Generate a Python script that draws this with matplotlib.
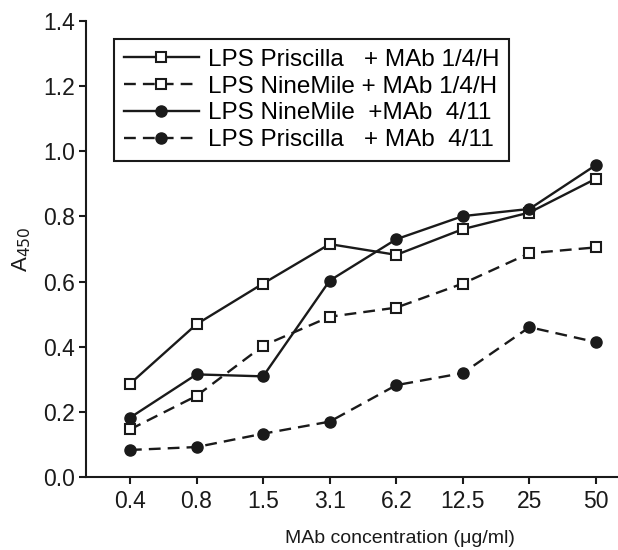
import numpy as np
import matplotlib
matplotlib.use('Agg')
from matplotlib import pyplot as plt

plt.rcParams['font.family'] = ['Liberation Sans', 'DejaVu Sans']

# data
concentrations = ['0.4', '0.8', '1.5', '3.1', '6.2', '12.5', '25', '50']
pris_14h = [0.286, 0.469, 0.594, 0.715, 0.682, 0.761, 0.812, 0.916]
nine_14h = [0.146, 0.249, 0.403, 0.492, 0.520, 0.594, 0.687, 0.705]
nine_411 = [0.182, 0.315, 0.309, 0.603, 0.730, 0.801, 0.823, 0.958]
pris_411 = [0.083, 0.092, 0.133, 0.170, 0.282, 0.319, 0.460, 0.414]
labels = ['LPS Priscilla   + MAb 1/4/H',
          'LPS NineMile + MAb 1/4/H',
          'LPS NineMile  +MAb  4/11',
          'LPS Priscilla   + MAb  4/11']
yticks = [0.0, 0.2, 0.4, 0.6, 0.8, 1.0, 1.2, 1.4]

fig = plt.figure(figsize=(6.18, 5.5), dpi=100)
ax = fig.add_axes([86 / 618, 1 - 477 / 550, 532 / 618, 456 / 550])

x = np.arange(len(concentrations))
lw = 1.7
ink = '#1a1a1a'
dash = (0, (5, 3))
ax.plot(x, pris_14h, color=ink, lw=lw, marker='s', ms=7, mfc='white',
        mec=ink, mew=1.5, label=labels[0])
ax.plot(x, nine_14h, color=ink, lw=lw, ls=dash, marker='s', ms=7,
        mfc='white', mec=ink, mew=1.5, label=labels[1])
ax.plot(x, nine_411, color=ink, lw=lw, marker='o', ms=8,
        mfc=ink, mec=ink, label=labels[2])
ax.plot(x, pris_411, color=ink, lw=lw, ls=dash, marker='o', ms=8,
        mfc=ink, mec=ink, label=labels[3])

ax.set_xlim(-0.66, 7.33)
ax.set_ylim(0, 1.4)
ax.set_xticks(x)
ax.set_xticklabels(concentrations)
ax.set_yticks(yticks)
ax.set_yticklabels([f'{v:.1f}' for v in yticks])

for side in ['top', 'right']:
    ax.spines[side].set_visible(False)
for side in ['left', 'bottom']:
    ax.spines[side].set_linewidth(1.5)
    ax.spines[side].set_color(ink)
ax.tick_params(direction='out', length=5, width=1.5, labelsize=16.5,
               colors=ink)
ax.tick_params(axis='x', pad=4)
ax.tick_params(axis='y', pad=3)

ax.set_xlabel('MAb concentration (\u03bcg/ml)', fontsize=14, color=ink)
ax.xaxis.set_label_coords(0.59, -0.117)
ax.set_ylabel('A$_{450}$', fontsize=16, color=ink)
ax.yaxis.set_label_coords(-0.10, 0.5)

leg = ax.legend(loc='upper left', bbox_to_anchor=(114 / 618, 1 - 39 / 550),
                bbox_transform=fig.transFigure, borderaxespad=0,
                fontsize=17.5, handlelength=3.1, handletextpad=0.35,
                labelspacing=0.2, fancybox=False, framealpha=1,
                edgecolor=ink, borderpad=0.4)
leg.get_frame().set_linewidth(1.5)

plt.savefig('out.png', dpi=100)
